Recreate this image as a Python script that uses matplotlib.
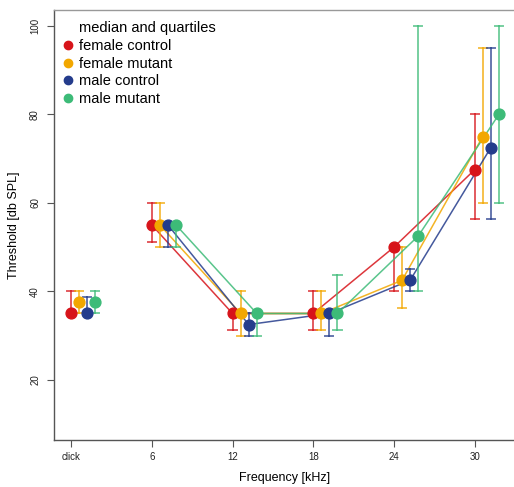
import matplotlib
matplotlib.use("Agg")
import matplotlib.pyplot as plt
from matplotlib.lines import Line2D

plt.rcParams['font.family'] = ['Liberation Sans', 'DejaVu Sans']

# Frequency positions (click drawn at 0) and tick labels
freq_pos = [0, 6, 12, 18, 24, 30]
freq_labels = ["click", "6", "12", "18", "24", "30"]

groups = ["female control", "female mutant", "male control", "male mutant"]
legend_title = "median and quartiles"
colors = ["#D7141A", "#F2A700", "#243C8C", "#3DBB78"]

# Medians per group, per frequency
median_fc = [35, 55, 35, 35, 50, 67.5]
median_fm = [37.5, 55, 35, 35, 42.5, 75]
median_mc = [35, 55, 32.5, 35, 42.5, 72.5]
median_mm = [37.5, 55, 35, 35, 52.5, 80]

# Lower quartiles
q1_fc = [35, 51.25, 31.25, 31.25, 40, 56.25]
q1_fm = [35, 50, 30, 31.25, 36.25, 60]
q1_mc = [35, 50, 30, 30, 40, 56.25]
q1_mm = [35, 50, 30, 31.25, 40, 60]

# Upper quartiles
q3_fc = [40, 60, 35, 40, 50, 80]
q3_fm = [40, 60, 40, 40, 50, 95]
q3_mc = [38.75, 55, 35, 35, 45, 95]
q3_mm = [40, 55, 35, 43.75, 100, 100]

medians = [median_fc, median_fm, median_mc, median_mm]
q1s = [q1_fc, q1_fm, q1_mc, q1_mm]
q3s = [q3_fc, q3_fm, q3_mc, q3_mm]
offset_step = 0.6

fig = plt.figure(figsize=(5.14, 4.87), dpi=100)
ax = fig.add_axes([54 / 514, 1 - 440 / 487, (516 - 54) / 514, (440 - 10) / 487])

for i, (med, lo, hi, col) in enumerate(zip(medians, q1s, q3s, colors)):
    xs = [p + i * offset_step for p in freq_pos]
    # connecting line over the tone frequencies (click stays separate)
    ax.plot(xs[1:], med[1:], color=col, lw=1.1, alpha=0.85, zorder=2)
    for x, m, l, h in zip(xs, med, lo, hi):
        if h > l:
            ax.plot([x, x], [l, h], color=col, lw=1.4, alpha=0.7, zorder=2)
            for end in (l, h):
                if end != m:
                    ax.plot([x - 0.3, x + 0.3], [end, end], color=col,
                            lw=1.4, alpha=0.7, zorder=2)
    ax.plot(xs, med, 'o', color=col, ms=7.8, mec=col, zorder=3,
            linestyle='none')

ax.set_xlim(-1.27, 33.07)
ax.set_ylim(6.4, 103.6)
ax.set_xticks(freq_pos)
ax.set_xticklabels(freq_labels)
ax.set_yticks([20, 40, 60, 80, 100])
ax.set_yticklabels(["20", "40", "60", "80", "100"], rotation=90, va='center')
ax.tick_params(axis='both', labelsize=7, color='#555555', labelcolor='#222222',
               length=5, width=0.8)
ax.tick_params(axis='x', pad=4)
ax.tick_params(axis='y', pad=5)

for side in ('left', 'bottom'):
    ax.spines[side].set_color('#555555')
    ax.spines[side].set_linewidth(1.0)
ax.spines['top'].set_color('#999999')
ax.spines['top'].set_linewidth(1.0)
ax.spines['right'].set_visible(False)

ax.set_xlabel("Frequency [kHz]", fontsize=9, labelpad=7)
ax.set_ylabel("Threshold [db SPL]", fontsize=9, labelpad=7)

# Legend: first row is a caption without a symbol
handles = [Line2D([], [], ls='none', marker=None)]
handles += [Line2D([], [], marker='o', ls='none', color=c, ms=6) for c in colors]
leg = ax.legend(handles, [legend_title] + groups, loc='upper left',
                bbox_to_anchor=(-0.013, 1.004), frameon=False, fontsize=10.5,
                handletextpad=0.25, handlelength=1.0, labelspacing=0.25,
                borderaxespad=0.5, borderpad=0.4)

fig.savefig("out.png", dpi=100, facecolor='white')
